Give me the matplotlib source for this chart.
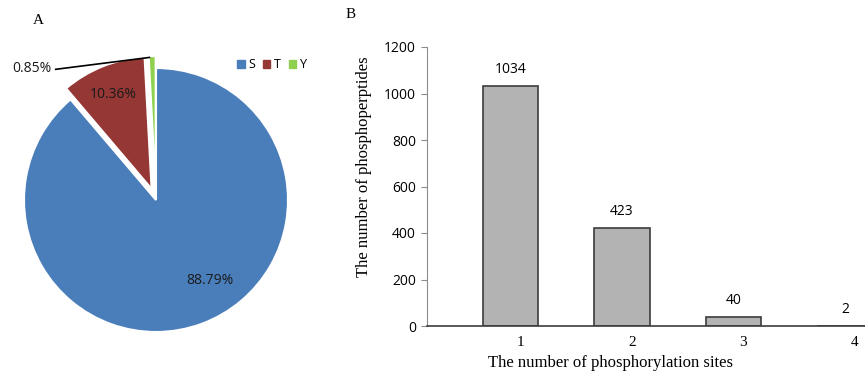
import matplotlib.pyplot as plt
import matplotlib.transforms as mtransforms
from matplotlib.patches import Patch

# residue distribution of phosphosites
residues = ["S", "T", "Y"]
residue_pct = [88.79, 10.36, 0.85]
residue_colors = ["#4a7ebb", "#953735", "#8fd14f"]

# phosphopeptides by number of sites
site_counts = [1, 2, 3, 4]
peptide_counts = [1034, 423, 40, 2]
y_ticks = [0, 200, 400, 600, 800, 1000, 1200]

W, H = 865, 376
fig = plt.figure(figsize=(W / 100, H / 100), dpi=100)

SANS = ["Open Sans", "DejaVu Sans"]
SERIF = ["Liberation Serif", "DejaVu Serif"]

# ---- A: pie ----
cx, cy, r = 156, 176, 132
xmin, xmax, ymin, ymax = -1.18, 1.2, -1.2, 1.3
ax1 = fig.add_axes([(cx + xmin * r) / W, (cy + ymin * r) / H,
                    (xmax - xmin) * r / W, (ymax - ymin) * r / H])
wedges, _ = ax1.pie(residue_pct, colors=residue_colors, startangle=90,
                    counterclock=False, explode=[0, 0.09, 0.09],
                    wedgeprops=dict(edgecolor="white", linewidth=1.5))
ax1.set_xlim(xmin, xmax)
ax1.set_ylim(ymin, ymax)
ax1.set_aspect("auto")
ax1.axis("off")

ax1.text(0.41, -0.61, f"{residue_pct[0]:.2f}%", ha="center", va="center",
         fontsize=10, family=SANS, color="#1a1a1a")
ax1.text(-0.32, 0.80, f"{residue_pct[1]:.2f}%", ha="center", va="center",
         fontsize=10, family=SANS, color="#1a1a1a")
ax1.text(-0.79, 1.0, f"{residue_pct[2]:.2f}%", ha="right", va="center",
         fontsize=10, family=SANS, color="#1a1a1a")
ax1.plot([-0.76, -0.05], [0.99, 1.08], color="black", lw=1.2)

fig.legend(handles=[Patch(color=c, label=l) for c, l in zip(residue_colors, residues)],
           loc="center left", bbox_to_anchor=(226 / W, 1 - 65 / H), ncol=3,
           frameon=False, handlelength=0.6, handleheight=0.6, handletextpad=0.3,
           columnspacing=0.6, prop={"family": SANS, "size": 9})

fig.text(33 / W, 1 - 20 / H, "A", fontsize=11, family=SERIF, ha="left", va="center")
fig.text(346 / W, 1 - 15 / H, "B", fontsize=11, family=SERIF, ha="left", va="center")

# ---- B: bars ----
x0, x1 = 427, W
y0, y1 = 326, 47
ax2 = fig.add_axes([x0 / W, (H - y0) / H, (x1 - x0) / W, (y0 - y1) / H])
ax2.bar(site_counts, peptide_counts, width=0.5, color="#b3b3b3",
        edgecolor="#3c3c3c", linewidth=1.2, zorder=2)
for x, v in zip(site_counts, peptide_counts):
    ax2.annotate(str(v), (x, v), xytext=(0, 6), textcoords="offset points",
                 ha="center", va="bottom", fontsize=10, family=SANS)

ax2.set_xlim(0.25, 4.18)
ax2.set_ylim(0, 1200)
ax2.set_yticks(y_ticks)
ax2.set_xticks(site_counts)
ax2.set_xticklabels([str(s) for s in site_counts], family=SERIF, fontsize=11)
ax2.tick_params(axis="y", labelsize=10, length=4, color="#8c8c8c", pad=4)
ax2.tick_params(axis="x", length=0, pad=7)
for lab in ax2.get_yticklabels():
    lab.set_family(SANS)
shift = mtransforms.ScaledTranslation(10 / 100, 0, fig.dpi_scale_trans)
for lab in ax2.get_xticklabels():
    lab.set_transform(lab.get_transform() + shift)

for side in ("top", "right"):
    ax2.spines[side].set_visible(False)
ax2.spines["left"].set_color("#8c8c8c")
ax2.spines["bottom"].set_color("#3c3c3c")
ax2.spines["bottom"].set_linewidth(1.2)

ax2.set_xlabel("The number of phosphorylation sites", family=SERIF, fontsize=12)
ax2.set_ylabel("The number of phosphoperptides", family=SERIF, fontsize=12)
ax2.xaxis.set_label_coords((610 - x0) / (x1 - x0), -(355 - y0) / (y0 - y1))
ax2.yaxis.set_label_coords(-(x0 - 372) / (x1 - x0), (y0 - 167) / (y0 - y1))

fig.savefig("out.png", dpi=100)
